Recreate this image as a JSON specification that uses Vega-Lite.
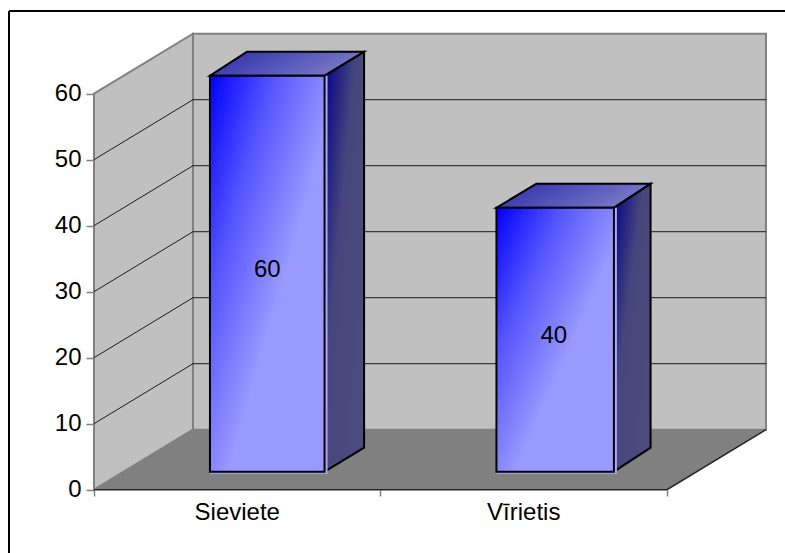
{
  "$schema": "https://vega.github.io/schema/vega-lite/v6.json",
  "width": 776,
  "height": 542,
  "autosize": "none",
  "padding": {"left": 9, "top": 11, "right": 0, "bottom": 0},
  "background": "white",
  "config": {"view": {"stroke": null}},
  "datasets": {
    "bars": [
      {"category": "Sieviete", "start": 0.3, "end": 0.7, "center": 0.5, "value": 60, "mid": 30},
      {"category": "Vīrietis", "start": 1.3, "end": 1.71, "center": 1.5, "value": 40, "mid": 20}
    ],
    "sides": [
      {"category": "Sieviete", "x": 0.7, "top": 60, "base": 0},
      {"category": "Sieviete", "x": 0.838, "top": 63.64, "base": 3.64},
      {"category": "Vīrietis", "x": 1.71, "top": 40, "base": 0},
      {"category": "Vīrietis", "x": 1.838, "top": 43.64, "base": 3.64}
    ],
    "tops": [
      {"category": "Sieviete", "y": 60, "left": 0.3, "right": 0.7},
      {"category": "Sieviete", "y": 63.64, "left": 0.43, "right": 0.838},
      {"category": "Vīrietis", "y": 40, "left": 1.3, "right": 1.71},
      {"category": "Vīrietis", "y": 43.64, "left": 1.44, "right": 1.838}
    ],
    "walls": [
      {"wall": "left", "x": 0, "top": 60, "base": 0},
      {"wall": "left", "x": 0.3455, "top": 69.09, "base": 9.09},
      {"wall": "back", "x": 0.3455, "top": 69.09, "base": 9.09},
      {"wall": "back", "x": 2.3455, "top": 69.09, "base": 9.09}
    ],
    "floor": [
      {"y": 0, "left": 0, "right": 2},
      {"y": 9.09, "left": 0.3455, "right": 2.3455}
    ],
    "grid": [
      {"level": 10, "x": 0, "y": 10}, {"level": 10, "x": 0.3455, "y": 19.09}, {"level": 10, "x": 2.3455, "y": 19.09},
      {"level": 20, "x": 0, "y": 20}, {"level": 20, "x": 0.3455, "y": 29.09}, {"level": 20, "x": 2.3455, "y": 29.09},
      {"level": 30, "x": 0, "y": 30}, {"level": 30, "x": 0.3455, "y": 39.09}, {"level": 30, "x": 2.3455, "y": 39.09},
      {"level": 40, "x": 0, "y": 40}, {"level": 40, "x": 0.3455, "y": 49.09}, {"level": 40, "x": 2.3455, "y": 49.09},
      {"level": 50, "x": 0, "y": 50}, {"level": 50, "x": 0.3455, "y": 59.09}, {"level": 50, "x": 2.3455, "y": 59.09}
    ],
    "frontEdge": [
      {"x": 0, "y": 0}, {"x": 2, "y": 0}, {"x": 2.3455, "y": 9.09}
    ],
    "frame": [
      {"left": -0.2967, "top": 72.53}
    ]
  },
  "layer": [
    {
      "data": {"name": "walls"},
      "mark": {"type": "area", "color": "#c0c0c0", "stroke": "#808080", "strokeWidth": 2},
      "encoding": {
        "x": {"field": "x", "type": "quantitative",
          "scale": {"domain": [-0.2967, 2.4119], "nice": false, "zero": false},
          "axis": {"values": [0, 1, 2], "labels": false, "grid": false, "domain": false, "title": null, "offset": -63, "tickSize": 6, "tickColor": "#808080", "tickWidth": 1.5}},
        "y": {"field": "top", "type": "quantitative",
          "scale": {"domain": [-9.59, 72.53], "nice": false, "zero": false},
          "axis": {"values": [0, 10, 20, 30, 40, 50, 60], "grid": false, "domain": false, "title": null, "offset": -85, "tickSize": 8, "tickColor": "#808080", "tickWidth": 1.5, "labelFont": "Liberation Sans", "labelFontSize": 24, "labelColor": "black", "labelPadding": 5}},
        "y2": {"field": "base"},
        "detail": {"field": "wall"}
      }
    },
    {
      "data": {"name": "floor"},
      "mark": {"type": "area", "orient": "horizontal", "color": "#808080"},
      "encoding": {
        "y": {"field": "y", "type": "quantitative"},
        "x": {"field": "left", "type": "quantitative"},
        "x2": {"field": "right"}
      }
    },
    {
      "data": {"name": "grid"},
      "mark": {"type": "line", "color": "#1c1c1c", "strokeWidth": 1},
      "encoding": {
        "x": {"field": "x", "type": "quantitative"},
        "y": {"field": "y", "type": "quantitative"},
        "detail": {"field": "level"}
      }
    },
    {
      "data": {"name": "frontEdge"},
      "mark": {"type": "line", "color": "#262626", "strokeWidth": 1.5},
      "encoding": {
        "x": {"field": "x", "type": "quantitative"},
        "y": {"field": "y", "type": "quantitative"}
      }
    },
    {
      "data": {"name": "sides"},
      "mark": {"type": "area", "xOffset": 30, "x2Offset": 30, "yOffset": -18, "y2Offset": -18, "stroke": "black", "strokeWidth": 2,
        "color": {"gradient": "linear", "x1": 0, "y1": 0, "x2": 1, "y2": 1, "stops": [
          {"offset": 0, "color": "#000088"}, {"offset": 0.4, "color": "#46467c"}, {"offset": 1, "color": "#4d4d80"}]}},
      "encoding": {
        "x": {"field": "x", "type": "quantitative"},
        "y": {"field": "top", "type": "quantitative"},
        "y2": {"field": "base"},
        "detail": {"field": "category"}
      }
    },
    {
      "data": {"name": "tops"},
      "mark": {"type": "area", "orient": "horizontal", "xOffset": 30, "x2Offset": 30, "yOffset": -18, "y2Offset": -18, "stroke": "black", "strokeWidth": 2,
        "color": {"gradient": "linear", "x1": 0, "y1": 0, "x2": 1, "y2": 0.3, "stops": [
          {"offset": 0, "color": "#2a2aa8"}, {"offset": 1, "color": "#7878c8"}]}},
      "encoding": {
        "y": {"field": "y", "type": "quantitative"},
        "x": {"field": "left", "type": "quantitative"},
        "x2": {"field": "right"},
        "detail": {"field": "category"}
      }
    },
    {
      "data": {"name": "bars"},
      "mark": {"type": "rect", "color": "#aaaaff", "xOffset": 30, "x2Offset": 33, "yOffset": -18, "y2Offset": -16},
      "encoding": {
        "x": {"field": "start", "type": "quantitative"},
        "x2": {"field": "end"},
        "y": {"field": "value", "type": "quantitative"},
        "y2": {"datum": 0}
      }
    },
    {
      "data": {"name": "bars"},
      "mark": {"type": "rect", "xOffset": 30, "x2Offset": 30, "yOffset": -18, "y2Offset": -18, "stroke": "black", "strokeWidth": 2,
        "color": {"gradient": "linear", "x1": 0, "y1": 0, "x2": 1, "y2": 1, "stops": [
          {"offset": 0, "color": "#0000ff"}, {"offset": 0.28, "color": "#5555ff"}, {"offset": 0.58, "color": "#9999ff"}, {"offset": 1, "color": "#9999ff"}]}},
      "encoding": {
        "x": {"field": "start", "type": "quantitative"},
        "x2": {"field": "end"},
        "y": {"field": "value", "type": "quantitative"},
        "y2": {"datum": 0}
      }
    },
    {
      "data": {"name": "bars"},
      "mark": {"type": "text", "font": "Liberation Sans", "fontSize": 24, "color": "black", "xOffset": 30, "yOffset": -22, "baseline": "middle", "align": "center"},
      "encoding": {
        "x": {"field": "center", "type": "quantitative"},
        "y": {"field": "mid", "type": "quantitative"},
        "text": {"field": "value", "type": "quantitative"}
      }
    },
    {
      "data": {"name": "bars"},
      "mark": {"type": "text", "font": "Liberation Sans", "fontSize": 24, "color": "black", "yOffset": 23, "baseline": "middle", "align": "center"},
      "encoding": {
        "x": {"field": "center", "type": "quantitative"},
        "y": {"datum": 0},
        "text": {"field": "category", "type": "nominal"}
      }
    },
    {
      "data": {"name": "frame"},
      "mark": {"type": "rule", "color": "black", "strokeWidth": 2},
      "encoding": {"y": {"field": "top", "type": "quantitative"}}
    },
    {
      "data": {"name": "frame"},
      "mark": {"type": "rule", "color": "black", "strokeWidth": 2},
      "encoding": {"x": {"field": "left", "type": "quantitative"}}
    }
  ]
}
